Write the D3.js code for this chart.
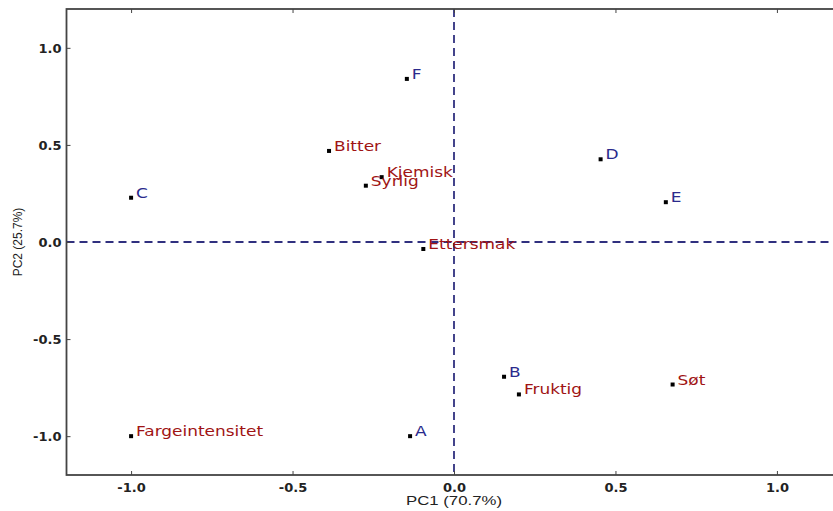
<!DOCTYPE html>
<html>
<head>
<meta charset="utf-8">
<script src="https://cdn.jsdelivr.net/npm/d3@7"></script>
<style>
  html, body { margin: 0; padding: 0; background: #fff; }
  svg { display: block; }
</style>
</head>
<body>
<svg id="chart" width="833" height="511"></svg>
<script>
// Samples (scores) on PC1/PC2
const sampleNames = ["A", "B", "C", "D", "E", "F"];
const samplePC1 = [-0.136, 0.155, -1.0, 0.454, 0.656, -0.146];
const samplePC2 = [-1.0, -0.694, 0.228, 0.426, 0.205, 0.840];

// Sensory attributes (loadings) on PC1/PC2
const attrNames = ["Bitter", "Kjemisk", "Syrlig", "Ettersmak", "Fruktig", "Søt", "Fargeintensitet"];
const attrPC1 = [-0.387, -0.224, -0.273, -0.095, 0.201, 0.677, -1.0];
const attrPC2 = [0.469, 0.334, 0.290, -0.036, -0.785, -0.734, -1.0];

const xTicks = [-1.0, -0.5, 0.0, 0.5, 1.0];
const yTicks = [-1.0, -0.5, 0.0, 0.5, 1.0];
const xLabel = "PC1 (70.7%)";
const yLabel = "PC2 (25.7%)";

const svg = d3.select("#chart");
const m = { left: 66.5, top: 9, right: 841.5, bottom: 475 };

const x = d3.scaleLinear().domain([-1.2, 1.2]).range([m.left, m.right]);
const y = d3.scaleLinear().domain([-1.2, 1.2]).range([m.bottom, m.top]);

const axisColor = "#444";
const fontFam = "'DejaVu Sans', sans-serif";

// Reference lines through the origin
const dash = "#30307f";
svg.append("line")
  .attr("x1", m.left).attr("x2", m.right)
  .attr("y1", y(0)).attr("y2", y(0))
  .attr("stroke", dash).attr("stroke-width", 1.8)
  .attr("stroke-dasharray", "8,5");
svg.append("line")
  .attr("x1", x(0)).attr("x2", x(0))
  .attr("y1", m.top).attr("y2", m.bottom)
  .attr("stroke", dash).attr("stroke-width", 1.8)
  .attr("stroke-dasharray", "8,5");

// Axes with inward ticks (bottom / left carry labels, top only ticks)
function styleAxis(g) {
  g.select(".domain").remove();
  g.selectAll(".tick line").attr("stroke", axisColor).attr("stroke-width", 1);
  g.selectAll(".tick text")
    .attr("fill", "#222")
    .style("font-family", fontFam)
    .style("font-size", "13px")
    .style("font-weight", "bold");
}

// plain hyphen for negative tick values
const fmt = v => d3.format(".1f")(v).replace("\u2212", "-");
svg.append("g")
  .attr("transform", `translate(0,${m.bottom})`)
  .call(d3.axisBottom(x).tickValues(xTicks).tickFormat(fmt).tickSizeInner(-4).tickSizeOuter(0).tickPadding(8))
  .call(styleAxis);
svg.append("g")
  .attr("transform", `translate(0,${m.top})`)
  .call(d3.axisTop(x).tickValues(xTicks).tickFormat("").tickSizeInner(-4).tickSizeOuter(0))
  .call(styleAxis);
svg.append("g")
  .attr("transform", `translate(${m.left},0)`)
  .call(d3.axisLeft(y).tickValues(yTicks).tickFormat(fmt).tickSizeInner(-4).tickSizeOuter(0).tickPadding(5))
  .call(styleAxis);

// Frame
svg.append("rect")
  .attr("x", m.left).attr("y", m.top)
  .attr("width", m.right - m.left).attr("height", m.bottom - m.top)
  .attr("fill", "none").attr("stroke", axisColor).attr("stroke-width", 1.8);

// Axis titles
svg.append("text")
  .attr("transform", `translate(${x(0)},505) scale(1.4,1)`)
  .attr("text-anchor", "middle")
  .attr("fill", "#222")
  .style("font-family", "'Liberation Sans', Arial, sans-serif")
  .style("font-size", "12px")
  .text(xLabel);
svg.append("text")
  .attr("transform", `translate(22,${y(0)}) rotate(-90)`)
  .attr("text-anchor", "middle")
  .attr("fill", "#222")
  .style("font-family", "'Liberation Sans', Arial, sans-serif")
  .style("font-size", "12px")
  .text(yLabel);

// Point markers and their labels
function drawSet(names, px, py, color) {
  const data = names.map((n, i) => ({ n, px: px[i], py: py[i] }));
  const g = svg.append("g");
  g.selectAll("rect").data(data).enter().append("rect")
    .attr("x", d => x(d.px) - 2).attr("y", d => y(d.py) - 2)
    .attr("width", 4).attr("height", 4)
    .attr("fill", "#000");
  g.selectAll("text").data(data).enter().append("text")
    .attr("transform", d => `translate(${x(d.px) + 5},${y(d.py)}) scale(1.17,1)`)
    .attr("fill", color)
    .style("font-family", fontFam)
    .style("font-size", "14.5px")
    .text(d => d.n);
}
drawSet(attrNames, attrPC1, attrPC2, "#a01414");
drawSet(sampleNames, samplePC1, samplePC2, "#2a2a8c");
</script>
</body>
</html>
